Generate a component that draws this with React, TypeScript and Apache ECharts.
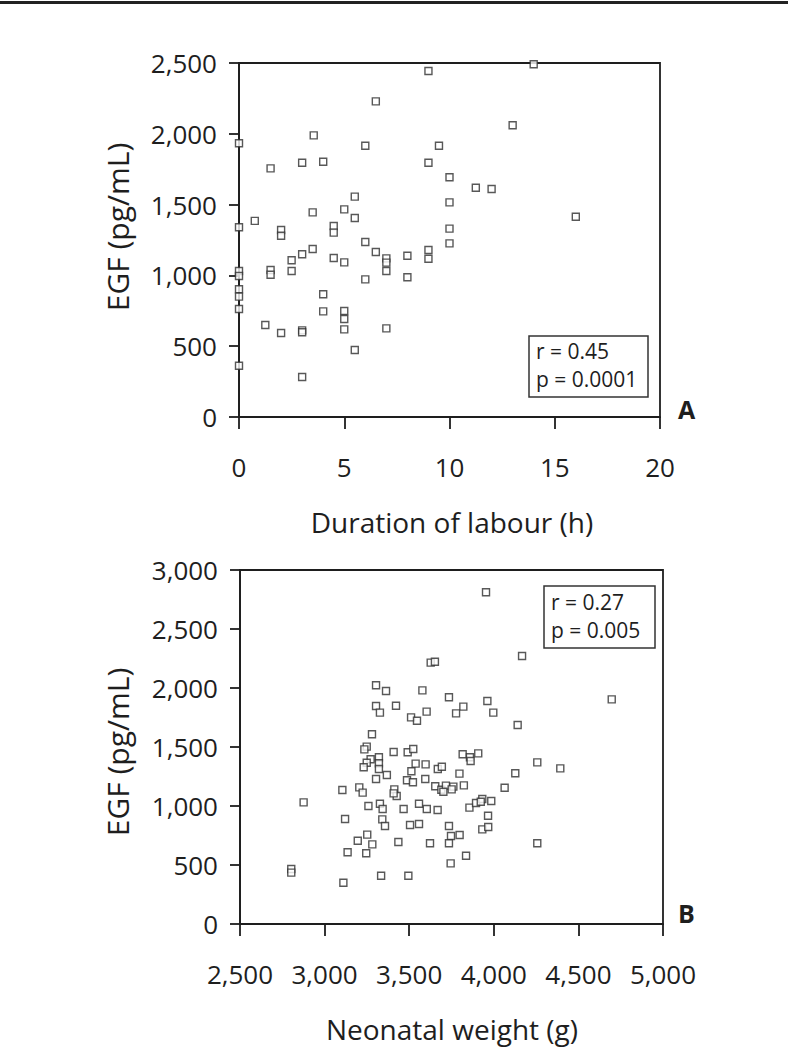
import React, { useEffect, useRef } from "react";
import * as echarts from "echarts";

// Panel A: duration of labour (h) vs EGF (pg/mL)
const hoursA = [
  9.0, 6.5, 3.55, 0, 6.0, 9.5, 1.5, 3.0, 4.0, 9.0, 10, 5.5, 10, 3.5, 5.0, 5.5, 0.75, 14, 13, 11.25, 12, 16,
  0, 2, 2, 4.5, 4.5, 10, 10, 6, 6.5, 7, 7, 7, 8, 8, 9, 9, 3.5, 3, 2.5, 2.5, 1.5, 1.5, 4.5, 5, 6,
  0, 0, 0, 0, 0, 4, 4, 5, 5, 5, 7, 1.25, 2, 3, 3, 5.5, 0, 3,
];
const egfA = [
  2443, 2229, 1989, 1933, 1916, 1916, 1756, 1796, 1803, 1796, 1693, 1556, 1516, 1445, 1466, 1405, 1385, 2491, 2060, 1619, 1610, 1414,
  1340, 1321, 1280, 1349, 1302, 1330, 1226, 1236, 1165, 1120, 1090, 1031, 1139, 987, 1179, 1118, 1186, 1149, 1107, 1031, 1038, 1005, 1123, 1092, 972,
  1031, 996, 902, 850, 763, 867, 746, 749, 692, 619, 626, 650, 593, 612, 598, 473, 362, 282,
];

// Panel B: neonatal weight (g) vs EGF (pg/mL)
const weightB = [
  3627, 3652, 3304, 3363, 3578, 3735, 3304, 3327, 3422, 3603, 3511, 3546, 3954, 4167, 4697, 3820, 3777, 3962, 3997, 4141,
  3280, 3249, 3235, 3408, 3491, 3524, 3272, 3249, 3321, 3321, 3321, 3231, 3368, 3304, 3538, 3597, 3513, 3595, 3487, 3522,
  3669, 3693, 3654, 3690, 3717, 3702, 3105, 3205, 3225, 3412, 3426, 3408, 2876, 3259, 3327, 3343, 3467, 3558, 3604, 3668,
  3121, 3341, 3357, 3505, 3558, 3735, 3252, 3282, 3196, 3436, 3623, 3747, 3798, 3735, 3136, 3246, 3745, 2803, 2803, 3334,
  3495, 3111, 3816, 3859, 3863, 3908, 4257, 4393, 4127, 3797, 3761, 3751, 3823, 4064, 3856, 3895, 3932, 3985, 3923, 3966,
  3932, 3967, 4257, 3836,
];
const egfB = [
  2215, 2223, 2023, 1975, 1980, 1921, 1847, 1791, 1850, 1800, 1751, 1723, 2811, 2271, 1904, 1842, 1785, 1890, 1791, 1686,
  1608, 1503, 1480, 1458, 1455, 1483, 1396, 1367, 1413, 1362, 1314, 1328, 1263, 1229, 1359, 1353, 1294, 1229, 1218, 1201,
  1314, 1333, 1167, 1138, 1173, 1121, 1136, 1158, 1113, 1141, 1085, 1107, 1031, 1000, 1019, 975, 975, 1019, 975, 966,
  890, 887, 831, 839, 847, 831, 757, 675, 706, 695, 684, 746, 754, 684, 608, 599, 514, 466, 435, 409,
  409, 350, 1438, 1413, 1381, 1446, 1370, 1319, 1277, 1274, 1164, 1141, 1175, 1155, 986, 1025, 1059, 1042, 1036, 918,
  802, 822, 684, 579,
];

const statsA = ["r = 0.45", "p = 0.0001"];
const statsB = ["r = 0.27", "p = 0.005"];

const FONT = "'Open Sans', 'DejaVu Sans', sans-serif";
const INK = "#1e1e1e";

const fmt = (v: number) => String(v).replace(/\B(?=(\d{3})+(?!\d))/g, ",");

function text(x: number, y: number, t: string, size: number, opts: any = {}) {
  return {
    type: "text",
    x,
    y,
    rotation: opts.rotation || 0,
    style: {
      text: t,
      fontSize: size,
      fontFamily: FONT,
      fontWeight: opts.bold ? "bold" : "normal",
      fill: INK,
      lineHeight: opts.lineHeight,
      align: opts.align || "center",
      verticalAlign: opts.va || "middle",
      textAlign: opts.align || "center",
      textVerticalAlign: opts.va || "middle",
    },
  };
}

export default function App() {
  const ref = useRef<HTMLDivElement>(null);
  useEffect(() => {
    if (!ref.current) return;
    const chart = echarts.init(ref.current, null, { renderer: "svg" });
    const axisLine = { show: true, lineStyle: { color: INK, width: 1.8 } };
    const labelStyle = { color: INK, fontSize: 26, fontFamily: FONT };
    const xAxisBase = {
      type: "value",
      splitLine: { show: false },
      axisLine: { ...axisLine, onZero: false },
      axisTick: { show: true, inside: false, length: 12, lineStyle: { color: INK, width: 1.8 } },
      axisLabel: { ...labelStyle, margin: 37, formatter: fmt },
    };
    const yAxisBase = {
      type: "value",
      splitLine: { show: false },
      axisLine: { ...axisLine, onZero: false },
      axisTick: { show: true, inside: false, length: 10, lineStyle: { color: INK, width: 1.8 } },
      axisLabel: { ...labelStyle, margin: 22, formatter: fmt },
    };
    const marker = {
      type: "scatter",
      symbol: "rect",
      symbolSize: 7,
      itemStyle: { color: "#ffffff", borderColor: "#2e2e2e", borderWidth: 1.4 },
    };
    chart.setOption({
      animation: false,
      backgroundColor: "#ffffff",
      grid: [
        { left: 239, top: 63, width: 421, height: 354, show: true, borderColor: INK, borderWidth: 1.8, backgroundColor: "transparent" },
        { left: 240, top: 570, width: 423, height: 354, show: true, borderColor: INK, borderWidth: 1.8, backgroundColor: "transparent" },
      ],
      xAxis: [
        { ...xAxisBase, gridIndex: 0, min: 0, max: 20, interval: 5 },
        { ...xAxisBase, gridIndex: 1, min: 2500, max: 5000, interval: 500 },
      ],
      yAxis: [
        { ...yAxisBase, gridIndex: 0, min: 0, max: 2500, interval: 500 },
        { ...yAxisBase, gridIndex: 1, min: 0, max: 3000, interval: 500 },
      ],
      series: [
        { ...marker, xAxisIndex: 0, yAxisIndex: 0, data: hoursA.map((h, i) => [h, egfA[i]]) },
        { ...marker, xAxisIndex: 1, yAxisIndex: 1, data: weightB.map((w, i) => [w, egfB[i]]) },
      ],
      graphic: [
        { type: "rect", shape: { x: 0, y: 1, width: 788, height: 3 }, style: { fill: "#222" } },
        // axis titles
        text(117, 227, "EGF (pg/mL)", 30, { rotation: Math.PI / 2 }),
        text(452, 522, "Duration of labour (h)", 28),
        text(117, 752, "EGF (pg/mL)", 30, { rotation: Math.PI / 2 }),
        text(452, 1029, "Neonatal weight (g)", 28),
        // panel letters
        text(678, 409, "A", 25, { bold: true, align: "left" }),
        text(678, 913, "B", 25, { bold: true, align: "left" }),
        // stats boxes
        { type: "rect", shape: { x: 529, y: 336, width: 119, height: 61 }, style: { fill: "#fff", stroke: "#333", lineWidth: 1.5 } },
        text(536, 351, statsA[0], 21, { align: "left" }),
        text(536, 379, statsA[1], 21, { align: "left" }),
        { type: "rect", shape: { x: 544, y: 586, width: 111, height: 62 }, style: { fill: "#fff", stroke: "#333", lineWidth: 1.5 } },
        text(551, 602, statsB[0], 21, { align: "left" }),
        text(551, 630, statsB[1], 21, { align: "left" }),
      ],
    });
    return () => chart.dispose();
  }, []);
  return (
    <div
      ref={ref}
      style={{ position: "absolute", left: 0, top: 0, width: 788, height: 1056, background: "#fff" }}
    />
  );
}
